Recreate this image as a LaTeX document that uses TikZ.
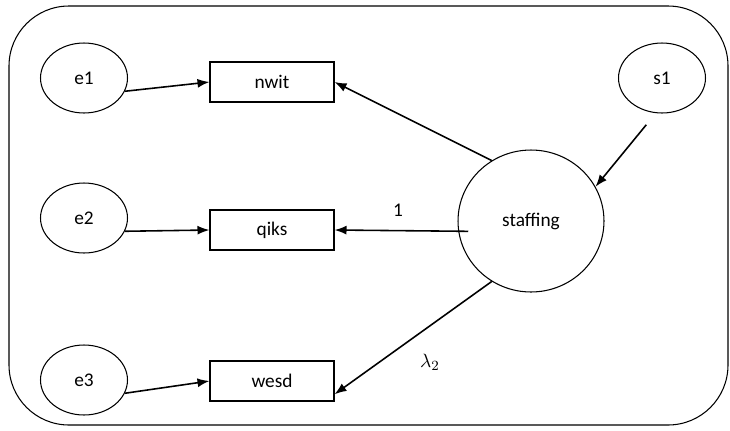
\documentclass[tikz,border=0pt]{standalone}
\usepackage{fontspec}
\setmainfont{Carlito}
\usetikzlibrary{shapes.geometric,arrows.meta}
\tikzset{
  err/.style={draw, ellipse, minimum width=1.74cm, minimum height=1.4cm},
  obs/.style={draw, rectangle, minimum width=2.48cm, minimum height=0.8cm},
  lat/.style={draw, ellipse, minimum width=2.92cm, minimum height=2.84cm},
  path/.style={-{Latex[length=2.4mm,width=1.8mm]}, line width=0.9pt}
}
\begin{document}
\begin{tikzpicture}[x=0.02cm, y=-0.02cm, font=\fontsize{11}{13}\selectfont, line width=0.6pt]
\useasboundingbox (0,0) rectangle (730,430);
\draw[rounded corners=1.2cm] (9,6) rectangle (728,425);

\node[err] (e1) at (84,78) {e1};
\node[err] (e2) at (84,218) {e2};
\node[err] (e3) at (84,380) {e3};
\node[err] (s1) at (662,78) {s1};

\node[obs] (nwit) at (272,82) {nwit};
\node[obs] (qiks) at (272,230) {qiks};
\node[obs] (wesd) at (272,381) {wesd};

\node[lat] (staffing) at (531,221) {staffing};

\draw[path] (e1.-18) -- (nwit.west);
\draw[path] (e2.-18) -- (qiks.west);
\draw[path] (e3.-18) -- (wesd.west);

\draw[path] (staffing.123) -- (nwit.east);
\draw[path, shorten <=-0.2cm] (staffing.188) -- (qiks.east);
\draw[path] (staffing.237) -- (wesd.-12);
\draw[path, shorten <=0.3cm] (s1.-100) -- (staffing.28);

\node at (398,210) {1};
\node at (430,362) {$\lambda_2$};
\end{tikzpicture}
\end{document}
